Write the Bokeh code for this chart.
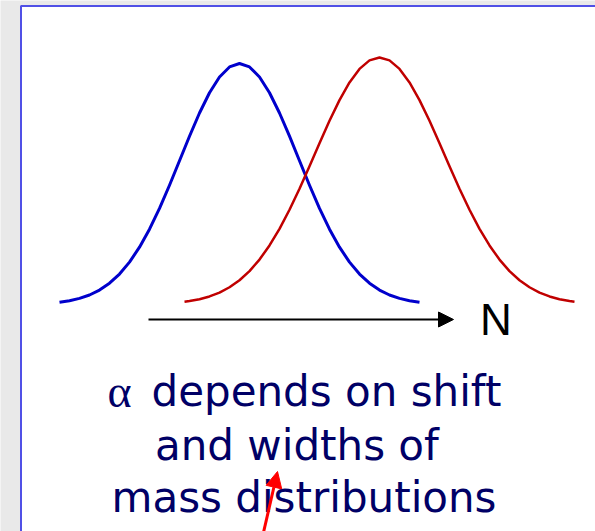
from bokeh.plotting import figure
from bokeh.models import Range1d, Arrow, NormalHead, Label
from bokeh.embed import file_html
from bokeh.resources import INLINE

# ---- data (N in arbitrary units, heights relative to blue peak) ----
blue_n = [-4.45, -3.95, -3.45, -2.95, -2.45, -1.95, -1.45, -0.95, -0.45, 0.05,
          0.55, 1.05, 1.55, 2.05, 2.55, 3.05, 3.55, 4.05, 4.55, 5.05,
          5.55, 6.05, 6.55, 7.05, 7.55, 8.05, 8.55, 9.05, 9.55, 10.05,
          10.55, 11.05, 11.55, 12.05, 12.55, 13.05, 13.55]
blue_h = [0.0095, 0.0157, 0.0253, 0.0395, 0.0599, 0.0883, 0.1264, 0.1759, 0.2378, 0.3124,
          0.3988, 0.4947, 0.5963, 0.6983, 0.7947, 0.8787, 0.9442, 0.9857, 1.0000, 0.9857,
          0.9442, 0.8787, 0.7947, 0.6983, 0.5963, 0.4947, 0.3988, 0.3124, 0.2378, 0.1759,
          0.1264, 0.0883, 0.0599, 0.0395, 0.0253, 0.0157, 0.0095]

red_n = [1.80, 2.05, 2.55, 3.05, 3.55, 4.05, 4.55, 5.05, 5.55, 6.05,
         6.55, 7.05, 7.55, 8.05, 8.55, 9.05, 9.55, 10.05, 10.55, 11.05,
         11.55, 12.05, 12.55, 13.05, 13.55, 14.05, 14.55, 15.05, 15.55, 16.05,
         16.55, 17.05, 17.55, 18.05, 18.55, 19.05, 19.55, 20.05, 20.55, 21.05, 21.30]
red_h = [0.0114, 0.0143, 0.0221, 0.0335, 0.0495, 0.0715, 0.1008, 0.1387, 0.1864, 0.2449,
         0.3139, 0.3930, 0.4806, 0.5740, 0.6694, 0.7625, 0.8482, 0.9215, 0.9776, 1.0129,
         1.0250, 1.0129, 0.9776, 0.9215, 0.8482, 0.7625, 0.6694, 0.5740, 0.4806, 0.3930,
         0.3139, 0.2449, 0.1864, 0.1387, 0.1008, 0.0715, 0.0495, 0.0335, 0.0221, 0.0143, 0.0114]

axis_label = "N"
text_lines = ["depends on shift", "and widths of", "mass distributions"]
alpha_symbol = "\u03b1"

BG = "#e9e9e9"
NAVY = "#000066"

p = figure(width=595, height=531,
           x_range=Range1d(-7.4, 22.35), y_range=Range1d(-0.94191, 1.26141),
           x_axis_type=None, y_axis_type=None,
           output_backend="svg", toolbar_location=None, min_border=0,
           background_fill_color=BG, border_fill_color=BG)
p.outline_line_color = None

# white slide panel with blue border
p.quad(left=[-6.375], right=[24.0], bottom=[-1.2], top=[1.2386],
       fill_color="white", line_color="#5050e6", line_width=2)

# distributions
p.line(blue_n, blue_h, line_color="#0000cc", line_width=3, line_join="round")
p.line(red_n, red_h, line_color="#c00000", line_width=2.5, line_join="round")

# N axis arrow
p.add_layout(Arrow(end=NormalHead(size=15, fill_color="black", line_color="black"),
                   x_start=0.0, y_start=-0.0622, x_end=15.25, y_end=-0.0622,
                   line_color="black", line_width=2))
p.add_layout(Label(x=479.5, y=212, x_units="screen", y_units="screen", text=axis_label,
                   text_font="Liberation Sans", text_font_size="44px",
                   text_color="black", text_baseline="alphabetic"))

# caption
p.add_layout(Label(x=107, y=140, x_units="screen", y_units="screen", text=alpha_symbol,
                   text_font="Liberation Serif", text_font_size="46px",
                   text_color=NAVY, text_baseline="alphabetic"))
for tx, ty, t in [(151, 140, text_lines[0]), (154.5, 86, text_lines[1]), (111, 34, text_lines[2])]:
    p.add_layout(Label(x=tx, y=ty, x_units="screen", y_units="screen", text=t,
                       text_font="DejaVu Sans", text_font_size="42px",
                       text_color=NAVY, text_baseline="alphabetic"))

# red pointer arrow
p.add_layout(Arrow(end=NormalHead(size=16, fill_color="#ff0000", line_color="#ff0000"),
                   x_start=5.6, y_start=-1.0, x_end=6.45, y_end=-0.693,
                   line_color="#ff0000", line_width=3))

open("out.html", "w").write(file_html(p, INLINE))
